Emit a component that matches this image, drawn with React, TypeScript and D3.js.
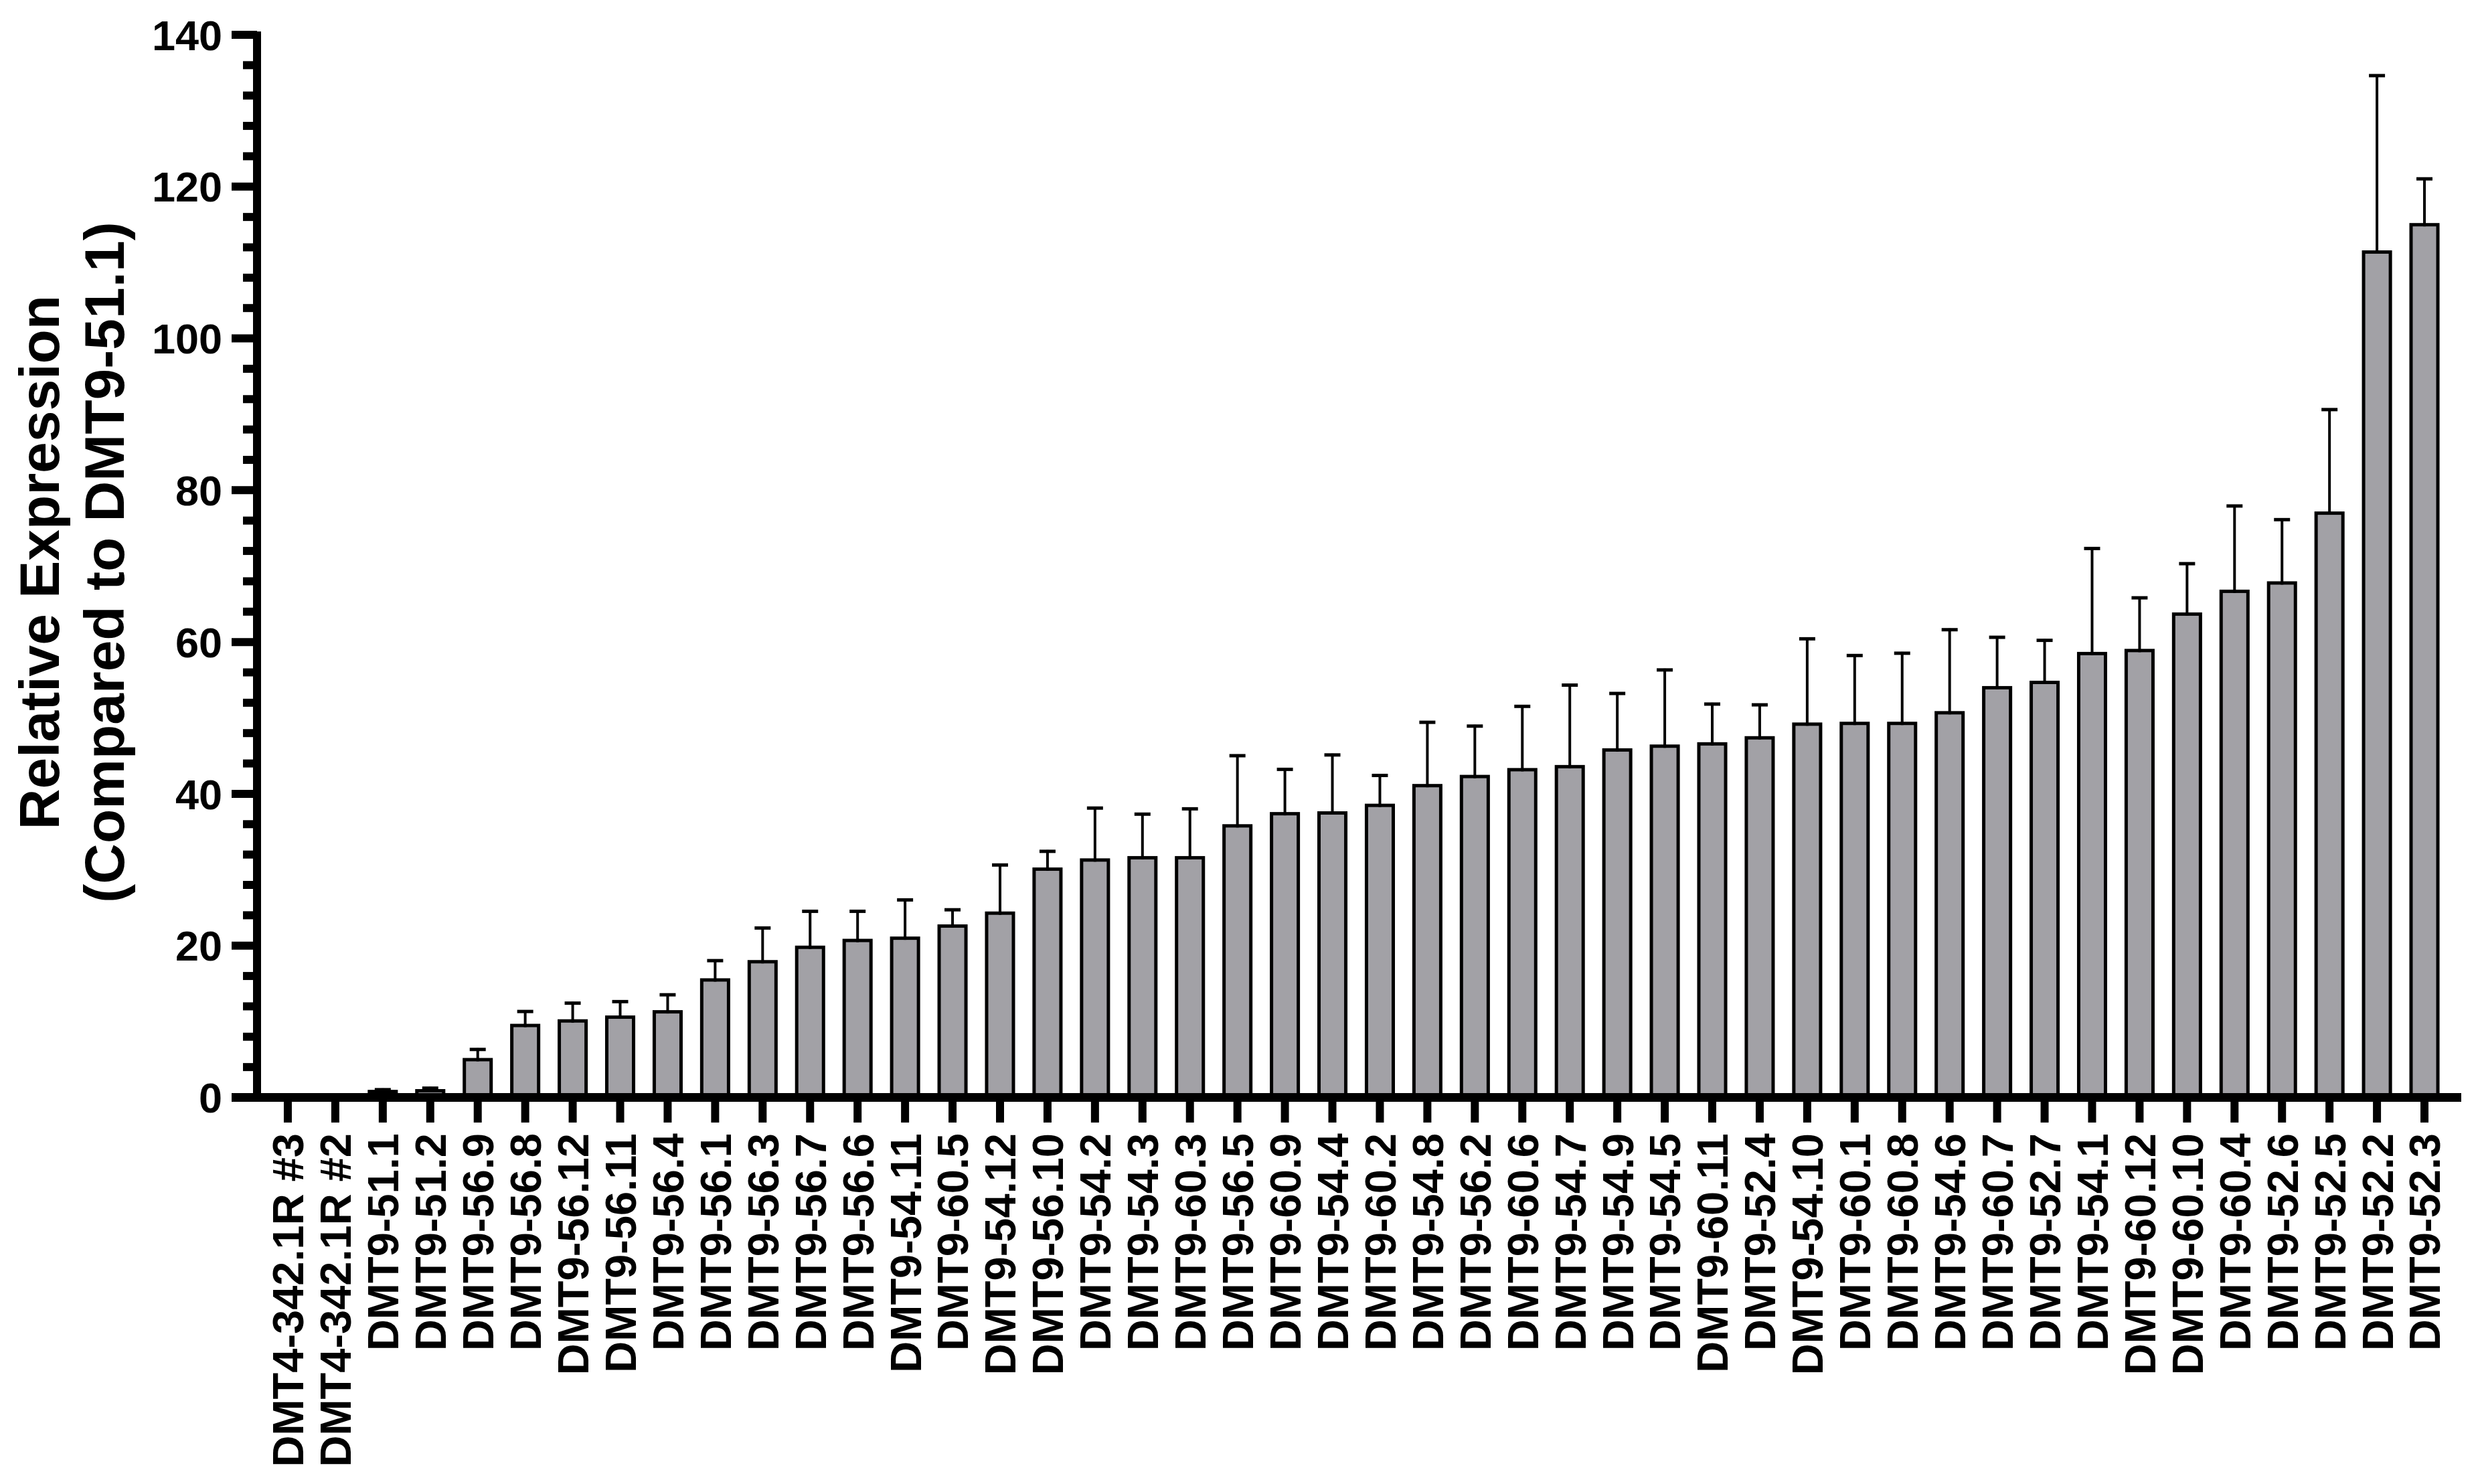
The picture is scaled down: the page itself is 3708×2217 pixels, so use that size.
import React, { useEffect, useRef } from 'react';
import * as d3 from 'd3';

const categories = [
  'DMT4-342.1R #3', 'DMT4-342.1R #2', 'DMT9-51.1', 'DMT9-51.2', 'DMT9-56.9',
  'DMT9-56.8', 'DMT9-56.12', 'DMT9-56.11', 'DMT9-56.4', 'DMT9-56.1',
  'DMT9-56.3', 'DMT9-56.7', 'DMT9-56.6', 'DMT9-54.11', 'DMT9-60.5',
  'DMT9-54.12', 'DMT9-56.10', 'DMT9-54.2', 'DMT9-54.3', 'DMT9-60.3',
  'DMT9-56.5', 'DMT9-60.9', 'DMT9-54.4', 'DMT9-60.2', 'DMT9-54.8',
  'DMT9-56.2', 'DMT9-60.6', 'DMT9-54.7', 'DMT9-54.9', 'DMT9-54.5',
  'DMT9-60.11', 'DMT9-52.4', 'DMT9-54.10', 'DMT9-60.1', 'DMT9-60.8',
  'DMT9-54.6', 'DMT9-60.7', 'DMT9-52.7', 'DMT9-54.1', 'DMT9-60.12',
  'DMT9-60.10', 'DMT9-60.4', 'DMT9-52.6', 'DMT9-52.5', 'DMT9-52.2',
  'DMT9-52.3'
];

const means = [
  0, 0, 1.0, 1.1, 5.2,
  9.7, 10.3, 10.8, 11.5, 15.7,
  18.1, 20.0, 20.9, 21.2, 22.8,
  24.5, 30.3, 31.5, 31.8, 31.8,
  36.0, 37.6, 37.7, 38.7, 41.3,
  42.5, 43.4, 43.8, 46.0, 46.5,
  46.8, 47.6, 49.4, 49.5, 49.5,
  50.9, 54.2, 54.9, 58.7, 59.1,
  63.9, 66.9, 68.0, 77.2, 111.6,
  115.2
];

const errors = [
  0, 0, 0.2, 0.3, 1.3,
  1.8, 2.3, 2.0, 2.2, 2.5,
  4.4, 4.7, 3.8, 5.0, 2.1,
  6.3, 2.3, 6.8, 5.7, 6.4,
  9.2, 5.8, 7.6, 3.9, 8.3,
  6.6, 8.3, 10.7, 7.4, 10.0,
  5.2, 4.3, 11.2, 8.9, 9.2,
  10.9, 6.6, 5.5, 13.8, 6.9,
  6.6, 11.2, 8.3, 13.6, 23.2,
  6.0
];

const yTicks = [0, 20, 40, 60, 80, 100, 120, 140];

const W = 3708;
const H = 2217;

export default function App() {
  const ref = useRef<SVGSVGElement>(null);

  useEffect(() => {
    const svg = d3.select(ref.current);
    svg.selectAll('*').remove();

    const font = '"Liberation Sans", Arial, Helvetica, sans-serif';
    const axisX = 384;
    const axisY = 1639.5;
    const axisW = 12;

    const x = d3.scaleBand<string>()
      .domain(categories)
      .range([394.5, 3657.5])
      .paddingInner(0.365)
      .paddingOuter(0.1825);

    const y = d3.scaleLinear().domain([0, 140]).range([axisY, 52]);

    const data = categories.map((name, i) => ({ name, mean: means[i], err: errors[i] }));

    // bars
    const sw = 5;
    const g = svg.append('g');
    g.selectAll('.bar')
      .data(data.filter((d) => d.mean > 0))
      .enter()
      .append('rect')
      .attr('x', (d) => (x(d.name) as number) + sw / 2)
      .attr('y', (d) => y(d.mean) + sw / 2)
      .attr('width', x.bandwidth() - sw)
      .attr('height', (d) => Math.max(0, y(0) - y(d.mean) - sw / 2))
      .attr('fill', '#a2a1a6')
      .attr('stroke', '#000')
      .attr('stroke-width', sw);

    // error bars (upper only)
    const eb = g.selectAll('.err')
      .data(data.filter((d) => d.err > 0))
      .enter()
      .append('g');
    eb.append('line')
      .attr('x1', (d) => (x(d.name) as number) + x.bandwidth() / 2)
      .attr('x2', (d) => (x(d.name) as number) + x.bandwidth() / 2)
      .attr('y1', (d) => y(d.mean) + sw)
      .attr('y2', (d) => y(d.mean + d.err))
      .attr('stroke', '#000')
      .attr('stroke-width', 4);
    eb.append('line')
      .attr('x1', (d) => (x(d.name) as number) + x.bandwidth() / 2 - 12)
      .attr('x2', (d) => (x(d.name) as number) + x.bandwidth() / 2 + 12)
      .attr('y1', (d) => y(d.mean + d.err) + 2)
      .attr('y2', (d) => y(d.mean + d.err) + 2)
      .attr('stroke', '#000')
      .attr('stroke-width', 5);

    // y axis
    svg.append('line')
      .attr('x1', axisX).attr('x2', axisX)
      .attr('y1', y(140) - 5).attr('y2', axisY)
      .attr('stroke', '#000').attr('stroke-width', axisW);

    const minor = d3.range(0, 141, 4).filter((v) => v % 20 !== 0);
    svg.selectAll('.ytick-minor')
      .data(minor)
      .enter()
      .append('line')
      .attr('x1', axisX - 21).attr('x2', axisX)
      .attr('y1', (d) => y(d)).attr('y2', (d) => y(d))
      .attr('stroke', '#000').attr('stroke-width', axisW);

    svg.selectAll('.ytick')
      .data(yTicks)
      .enter()
      .append('line')
      .attr('x1', axisX - 38).attr('x2', axisX)
      .attr('y1', (d) => y(d)).attr('y2', (d) => y(d))
      .attr('stroke', '#000').attr('stroke-width', axisW);

    svg.selectAll('.ylabel')
      .data(yTicks)
      .enter()
      .append('text')
      .attr('x', 332)
      .attr('y', (d) => y(d))
      .attr('dy', '0.36em')
      .attr('text-anchor', 'end')
      .attr('font-family', font)
      .attr('font-weight', 'bold')
      .attr('font-size', 63)
      .text((d) => d);

    // x axis
    svg.append('line')
      .attr('x1', axisX - 38).attr('x2', 3677)
      .attr('y1', axisY).attr('y2', axisY)
      .attr('stroke', '#000').attr('stroke-width', axisW + 1);

    svg.selectAll('.xtick')
      .data(categories)
      .enter()
      .append('line')
      .attr('x1', (d) => (x(d) as number) + x.bandwidth() / 2)
      .attr('x2', (d) => (x(d) as number) + x.bandwidth() / 2)
      .attr('y1', axisY)
      .attr('y2', 1677)
      .attr('stroke', '#000').attr('stroke-width', axisW);

    svg.selectAll('.xlabel')
      .data(categories)
      .enter()
      .append('text')
      .attr('transform', (d) => `translate(${(x(d) as number) + x.bandwidth() / 2},1693) rotate(-90)`)
      .attr('dy', '0.36em')
      .attr('text-anchor', 'end')
      .attr('font-family', font)
      .attr('font-weight', 'bold')
      .attr('font-size', 65)
      .text((d) => d);

    // y axis title
    const title = svg.append('text')
      .attr('transform', 'translate(0,840) rotate(-90)')
      .attr('text-anchor', 'middle')
      .attr('font-family', font)
      .attr('font-weight', 'bold')
      .attr('font-size', 84);
    title.append('tspan').attr('x', 0).attr('y', 88).text('Relative Expression');
    title.append('tspan').attr('x', 0).attr('y', 185).text('(Compared to DMT9-51.1)');
  }, []);

  return (
    <div style={{ position: 'absolute', left: 0, top: 0, background: '#fff' }}>
      <svg ref={ref} width={W} height={H} style={{ display: 'block' }} />
    </div>
  );
}
